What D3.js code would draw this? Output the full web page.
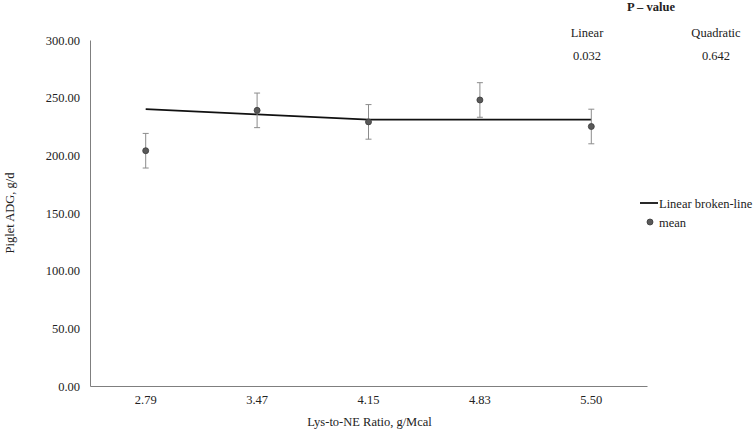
<!DOCTYPE html>
<html>
  <head>
    <style>
      body { margin: 0; background: #fff; }
      svg text { font-family: "Times New Roman", "Liberation Serif", "DejaVu Serif", serif !important; fill: #222; }
    </style>
  </head>
  <body>
    <div id="chart"></div>
    <script src="https://d3js.org/d3.v7.min.js"></script>
    <script>
      // data
      var ratios = ["2.79", "3.47", "4.15", "4.83", "5.50"];
      var means = [204, 239, 229, 248, 225];
      var errs = [15, 15, 15, 15, 15];
      var fitted = [240, 235.5, 231, 231, 231];
      var yTicks = [0, 50, 100, 150, 200, 250, 300];
      var pHeads = ["Linear", "Quadratic"];
      var pVals = ["0.032", "0.642"];

      var width = 755, height = 431;
      var margin = { top: 40, right: 108, bottom: 45, left: 90 };
      var fs = "12.5px";

      var svg = d3.select("#chart").append("svg")
        .attr("width", width)
        .attr("height", height);

      var x = d3.scaleBand()
        .domain(ratios)
        .range([margin.left, width - margin.right]);

      var y = d3.scaleLinear()
        .domain([0, 300])
        .range([height - margin.bottom, margin.top]);

      // y axis
      var yAxis = svg.append("g")
        .attr("transform", "translate(" + margin.left + ",0)")
        .call(d3.axisLeft(y).tickValues(yTicks).tickSize(0).tickPadding(10).tickFormat(d3.format(".2f")))
        .attr("font-family", null);
      yAxis.select(".domain").attr("stroke", "#7f7f7f");
      yAxis.selectAll("text").style("font-size", fs).attr("fill", "#222");

      // x axis
      var xAxis = svg.append("g")
        .attr("transform", "translate(0," + y(0) + ")")
        .call(d3.axisBottom(x).tickSize(0).tickPadding(9))
        .attr("font-family", null);
      xAxis.select(".domain").attr("stroke", "#7f7f7f");
      xAxis.selectAll("text").style("font-size", fs).attr("fill", "#222");

      // axis titles
      svg.append("text")
        .attr("x", (margin.left + width - margin.right) / 2 + 1)
        .attr("y", 426)
        .attr("text-anchor", "middle")
        .style("font-size", fs)
        .text("Lys-to-NE Ratio, g/Mcal");

      svg.append("text")
        .attr("transform", "translate(14," + (y(150)) + ") rotate(-90)")
        .attr("text-anchor", "middle")
        .style("font-size", fs)
        .text("Piglet ADG, g/d");

      var cx = function (i) { return x(ratios[i]) + x.bandwidth() / 2; };

      // broken-line fit
      var line = d3.line()
        .x(function (d, i) { return cx(i); })
        .y(function (d) { return y(d); });

      svg.append("path")
        .datum(fitted)
        .attr("d", line)
        .attr("fill", "none")
        .attr("stroke", "#111")
        .attr("stroke-width", 1.8);

      // error bars
      var eb = svg.append("g").attr("stroke", "#8c8c8c").attr("stroke-width", 1);
      means.forEach(function (m, i) {
        var px = cx(i);
        eb.append("line").attr("x1", px).attr("x2", px).attr("y1", y(m - errs[i])).attr("y2", y(m + errs[i]));
        eb.append("line").attr("x1", px - 3).attr("x2", px + 3).attr("y1", y(m - errs[i])).attr("y2", y(m - errs[i]));
        eb.append("line").attr("x1", px - 3).attr("x2", px + 3).attr("y1", y(m + errs[i])).attr("y2", y(m + errs[i]));
      });

      // means
      svg.append("g")
        .selectAll("circle")
        .data(means)
        .enter()
        .append("circle")
        .attr("cx", function (d, i) { return cx(i); })
        .attr("cy", function (d) { return y(d); })
        .attr("r", 3)
        .attr("fill", "#595959")
        .attr("stroke", "#3a3a3a")
        .attr("stroke-width", 0.8);

      // legend
      var lg = svg.append("g");
      lg.append("line").attr("x1", 640).attr("x2", 658).attr("y1", 203).attr("y2", 203)
        .attr("stroke", "#111").attr("stroke-width", 1.8);
      lg.append("text").attr("x", 659).attr("y", 207.5).style("font-size", fs).text("Linear broken-line");
      lg.append("circle").attr("cx", 650).attr("cy", 222).attr("r", 3)
        .attr("fill", "#595959").attr("stroke", "#3a3a3a").attr("stroke-width", 0.8);
      lg.append("text").attr("x", 659).attr("y", 226.5).style("font-size", fs).text("mean");

      // P-value table
      svg.append("text")
        .attr("x", 651).attr("y", 11)
        .attr("text-anchor", "middle")
        .style("font-size", fs)
        .style("font-weight", "bold")
        .text("P – value");
      var colX = [587, 716];
      pHeads.forEach(function (h, i) {
        svg.append("text").attr("x", colX[i]).attr("y", 37).attr("text-anchor", "middle")
          .style("font-size", fs).text(h);
        svg.append("text").attr("x", colX[i]).attr("y", 60).attr("text-anchor", "middle")
          .style("font-size", fs).text(pVals[i]);
      });
    </script>
  </body>
</html>
